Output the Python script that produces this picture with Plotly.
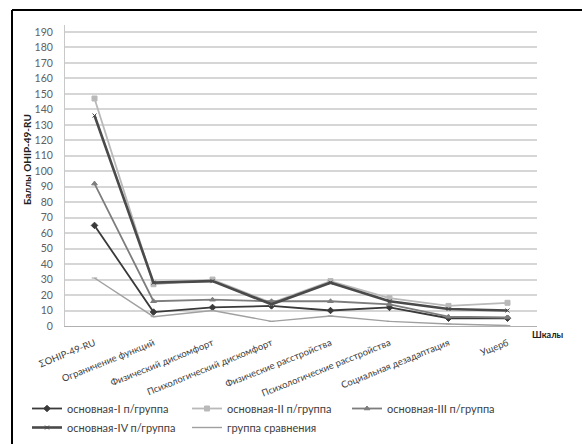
import plotly.graph_objects as go

# Scales of the OHIP-49-RU questionnaire (category axis)
scales = [
    "ΣOHIP-49-RU",
    "Ограничение функций",
    "Физический дискомфорт",
    "Психологический дискомфорт",
    "Физические расстройства",
    "Психологические расстройства",
    "Социальная дезадаптация",
    "Ущерб",
]

# Mean scores per group
group_1 = [65, 9, 12, 13, 10, 12, 5, 5]
group_2 = [147, 27, 30, 15, 29, 18, 13, 15]
group_3 = [92, 16, 17, 16, 16, 14, 6, 5.5]
group_4 = [136, 28, 29, 14, 28, 16, 11, 10]
control = [31, 6, 10, 3, 6.5, 3, 1.3, 0.3]

y_ticks = list(range(0, 200, 10))

series = [
    ("основная-I п/группа", group_1, "#3a3a3a", 1.8, "diamond", 5),
    ("основная-II п/группа", group_2, "#b9b9b9", 1.8, "square", 5),
    ("основная-III п/группа", group_3, "#7d7d7d", 1.8, "triangle-up", 5),
    ("основная-IV п/группа", group_4, "#4a4a4a", 2.6, "x-thin", 4),
    ("группа сравнения", control, "#a0a0a0", 1.4, "line-ew", 4),
]

fig = go.Figure()
for name, vals, color, width, symbol, msize in series:
    fig.add_trace(go.Scatter(
        x=scales, y=vals, name=name, mode="lines+markers",
        line=dict(color=color, width=width),
        marker=dict(symbol=symbol, size=msize, color=color,
                    line=dict(color=color, width=1)),
    ))

# Plot-area geometry in pixels, used to place the outer frame
W, H = 582, 444
L, R, T, B = 65, 45, 25, 118
pw, ph = W - L - R, H - T - B


def px_x(px):
    return (px - L) / pw


def px_y(py):
    return (H - B - py) / ph


frame = dict(color="#000000", width=2)
shapes = [
    dict(type="line", xref="paper", yref="paper",
         x0=px_x(12), x1=px_x(12), y0=px_y(10), y1=px_y(460), line=frame),
    dict(type="line", xref="paper", yref="paper",
         x0=px_x(12), x1=px_x(600), y0=px_y(10), y1=px_y(10), line=frame),
]

fig.update_layout(
    width=W, height=H,
    margin=dict(l=L, r=R, t=T, b=B, autoexpand=False),
    paper_bgcolor="white", plot_bgcolor="white",
    font=dict(family="Lato, Open Sans, sans-serif", color="#404040"),
    showlegend=True,
    legend=dict(
        orientation="h", x=px_x(27), y=px_y(394), xanchor="left", yanchor="top",
        entrywidth=115, entrywidthmode="pixels", itemwidth=30,
        font=dict(size=11, color="#404040"), tracegroupgap=0,
        bgcolor="rgba(0,0,0,0)",
    ),
    xaxis=dict(
        type="category", range=[-0.5, 7.5], tickangle=-22,
        tickfont=dict(size=9.5, color="#404040"), ticklabelstandoff=7,
        showgrid=False, showline=True, linecolor="#b0b0b0", linewidth=1,
        ticks="", fixedrange=True,
    ),
    yaxis=dict(
        range=[0, 194.5], tickvals=y_ticks,
        tickfont=dict(size=10.5, color="#606060"), ticklabelstandoff=9,
        showgrid=True, gridcolor="#d6d6d6", gridwidth=1.5,
        showline=True, linecolor="#c8c8c8", linewidth=1,
        zeroline=False, ticks="", ticklen=0, fixedrange=True,
    ),
    shapes=shapes,
    annotations=[
        dict(text="<b>Баллы OHIP-49-RU</b>", xref="paper", yref="paper",
             x=px_x(27), y=px_y(160), xanchor="center", yanchor="middle",
             textangle=-90, showarrow=False,
             font=dict(size=10, color="#202020")),
        dict(text="<b>Шкалы</b>", xref="paper", yref="paper",
             x=px_x(530), y=px_y(342), xanchor="left", showarrow=False,
             font=dict(size=9, color="#202020")),
    ],
)

fig.write_html("out.html")
